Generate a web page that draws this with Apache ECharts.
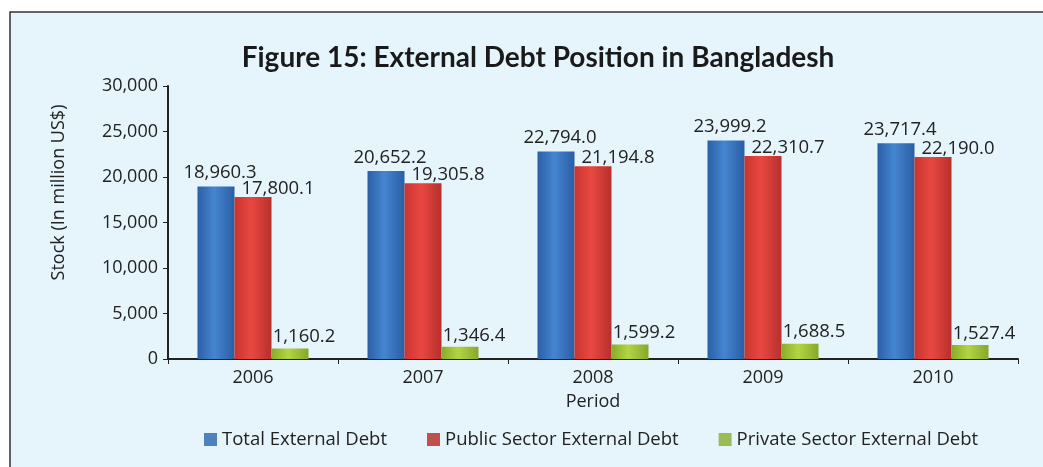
<!DOCTYPE html>
<html>
<head>
<meta charset="utf-8">
<script src="https://cdn.jsdelivr.net/npm/echarts@6/dist/echarts.min.js"></script>
<style>
html,body{margin:0;padding:0;background:#fff;}
#c{width:1043px;height:467px;}
</style>
</head>
<body>
<div id="c"></div>
<script>
const categories = ['2006', '2007', '2008', '2009', '2010'];
const totalDebt = [18960.3, 20652.2, 22794.0, 23999.2, 23717.4];
const publicDebt = [17800.1, 19305.8, 21194.8, 22310.7, 22190.0];
const privateDebt = [1160.2, 1346.4, 1599.2, 1688.5, 1527.4];
const seriesNames = ['Total External Debt', 'Public Sector External Debt', 'Private Sector External Debt'];

const FONT = 'Open Sans';
const fmt = v => v.toLocaleString('en-US', {minimumFractionDigits: 1, maximumFractionDigits: 1});

function grad(a, b, c) {
  return new echarts.graphic.LinearGradient(0, 0, 1, 0, [
    {offset: 0, color: a}, {offset: 0.45, color: b}, {offset: 1, color: c}
  ]);
}

const chart = echarts.init(document.getElementById('c'), null, {renderer: 'canvas'});
const labelBase = {show: true, position: 'top', distance: 4, color: '#222', fontFamily: FONT, fontSize: 18.5, formatter: p => fmt(p.value)};

chart.setOption({
  backgroundColor: '#fff',
  animation: false,
  graphic: [{
    type: 'rect', z: -10, silent: true,
    shape: {x: 10, y: 12, width: 1100, height: 520},
    style: {fill: '#E6F4FC', stroke: '#333', lineWidth: 1.5}
  }],
  title: {
    text: 'Figure 15: External Debt Position in Bangladesh',
    left: 533, top: 39, textAlign: 'center',
    textStyle: {fontFamily: 'Lato', fontWeight: 'bold', fontSize: 28, color: '#1a1a1a'}
  },
  legend: {
    data: [
      {name: seriesNames[0], itemStyle: {color: '#4F81BD'}},
      {name: seriesNames[1], itemStyle: {color: '#C0504D'}},
      {name: seriesNames[2], itemStyle: {color: '#9BBB59'}}
    ],
    left: 199, top: 425, itemWidth: 13, itemHeight: 13, itemGap: 40, icon: 'rect',
    textStyle: {fontFamily: FONT, fontSize: 18.5, color: '#222'}
  },
  grid: {left: 168, right: 25, top: 86, bottom: 108},
  xAxis: {
    type: 'category', data: categories,
    name: 'Period', nameLocation: 'middle', nameGap: 34,
    nameTextStyle: {fontFamily: FONT, fontSize: 18, color: '#222'},
    axisLine: {lineStyle: {color: '#222', width: 2}},
    axisTick: {show: true, length: 5, lineStyle: {color: '#222'}},
    axisLabel: {fontFamily: FONT, fontSize: 18, color: '#222', margin: 10}
  },
  yAxis: {
    type: 'value', min: 0, max: 30000, interval: 5000,
    name: 'Stock (In million US$)', nameLocation: 'middle', nameGap: 100,
    nameTextStyle: {fontFamily: FONT, fontSize: 18, color: '#222', padding: [0, 0, 0, 60]},
    axisLine: {show: true, lineStyle: {color: '#222', width: 2}},
    axisTick: {show: true, length: 5, lineStyle: {color: '#222'}},
    splitLine: {show: false},
    axisLabel: {fontFamily: FONT, fontSize: 18, color: '#222', margin: 10, formatter: v => v.toLocaleString('en-US')}
  },
  series: [
    {
      name: seriesNames[0], type: 'bar', data: totalDebt, barWidth: 37, barGap: '0%',
      itemStyle: {color: grad('#2B5FA6', '#4585D0', '#2A5EA4')},
      label: Object.assign({}, labelBase, {offset: [4, 0]})
    },
    {
      name: seriesNames[1], type: 'bar', data: publicDebt, barWidth: 37,
      itemStyle: {color: grad('#C93530', '#EA4741', '#B7302C')},
      label: Object.assign({}, labelBase, {offset: [25, 5]})
    },
    {
      name: seriesNames[2], type: 'bar', data: privateDebt, barWidth: 37,
      itemStyle: {color: grad('#88AC2A', '#B4D444', '#86A82A')},
      label: Object.assign({}, labelBase, {offset: [14, 2]})
    }
  ]
});
</script>
</body>
</html>
